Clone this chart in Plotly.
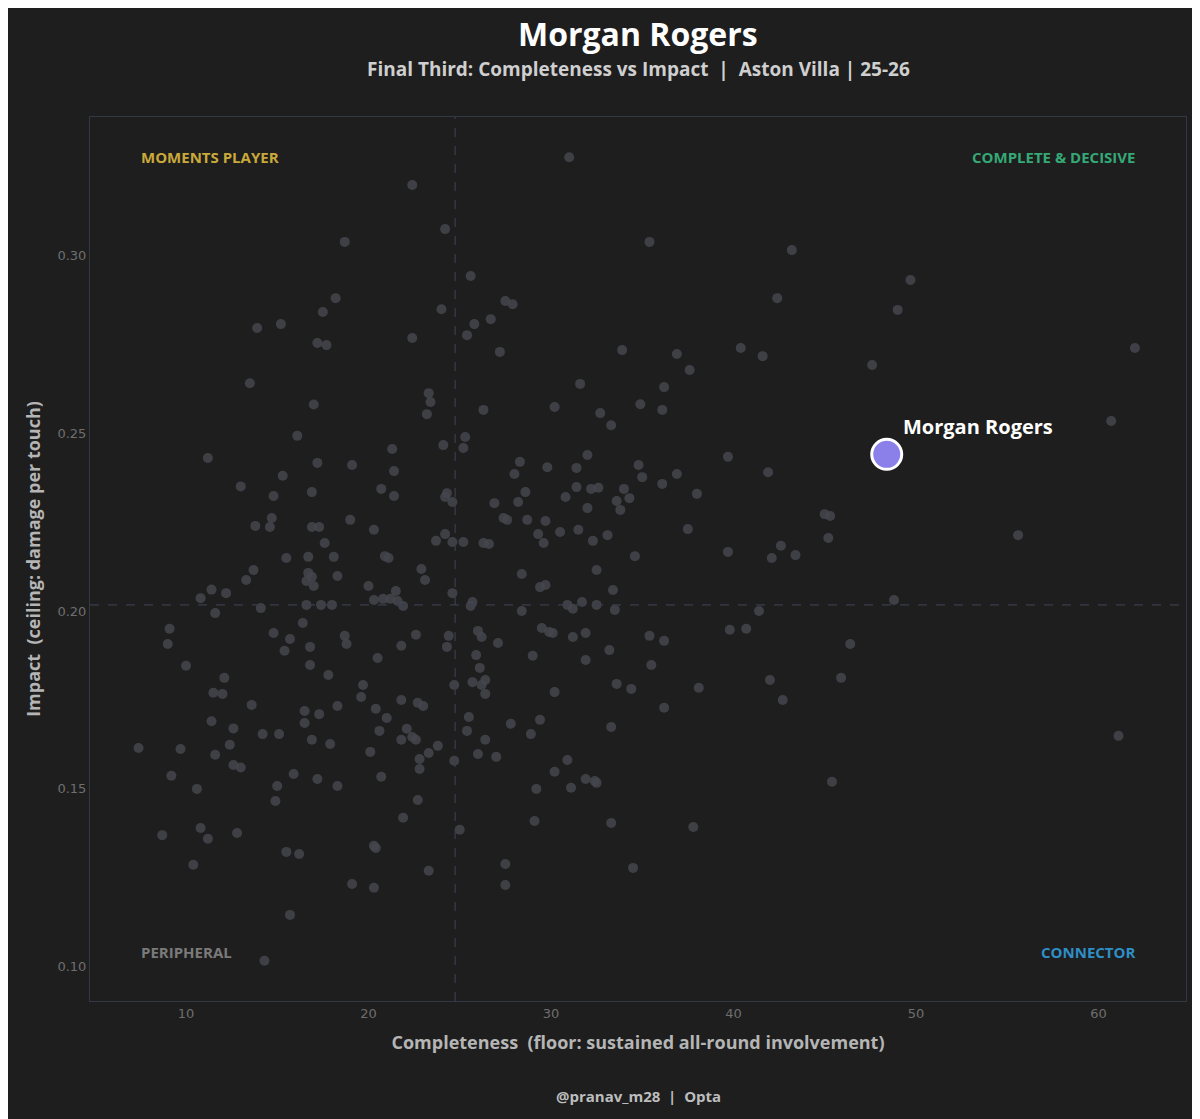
import plotly.graph_objects as go

# league players: completeness (x) vs impact (y)
completeness = [7.4, 8.7, 9.0, 9.1, 9.2, 9.7, 10.0, 10.4, 10.6, 10.8, 10.8, 11.2, 11.2, 11.4, 11.4, 11.5, 11.6, 11.6,
                12.0, 12.1, 12.2, 12.4, 12.6, 12.6, 12.8, 13.0, 13.0, 13.3, 13.6, 13.5, 13.7, 13.8, 13.9, 14.1, 14.2,
                14.3, 14.6, 14.7, 14.8, 14.8, 14.9, 15.0, 15.1, 15.2, 15.3, 15.4, 15.5, 15.5, 15.7, 15.7, 15.9, 16.1,
                16.2, 16.4, 16.5, 16.5, 16.6, 16.6, 16.7, 16.7, 16.8, 16.8, 16.9, 16.9, 17.0, 17.0, 16.9, 16.9, 17.2,
                17.2, 17.2, 17.3, 17.3, 17.4, 17.5, 17.6, 17.7, 17.8, 17.9, 18.0, 18.1, 18.2, 18.3, 18.3, 18.3, 18.7,
                18.7, 18.8, 19.0, 19.1, 19.1, 19.6, 19.7, 20.0, 20.1, 20.3, 20.3, 20.3, 20.3, 20.4, 20.4, 20.5, 20.6,
                20.7, 20.7, 20.8, 20.9, 21.0, 21.1, 21.2, 21.3, 21.4, 21.4, 21.5, 21.6, 21.8, 21.8, 21.8, 21.9, 21.9,
                22.1, 22.4, 22.4, 22.4, 22.6, 22.6, 22.7, 22.7, 22.8, 22.8, 22.9, 23.0, 23.1, 23.2, 23.3, 23.3, 23.3,
                23.4, 23.7, 23.8, 24.0, 24.1, 24.2, 24.2, 24.2, 24.3, 24.3, 24.4, 24.6, 24.6, 24.6, 24.7, 24.7, 25.0,
                25.2, 25.2, 25.3, 25.4, 25.4, 25.5, 25.6, 25.6, 25.7, 25.7, 25.8, 25.9, 26.0, 26.0, 26.1, 26.2, 26.2,
                26.3, 26.3, 26.4, 26.4, 26.4, 26.6, 26.7, 26.9, 27.0, 27.1, 27.2, 27.4, 27.5, 27.5, 27.5, 27.6, 27.8,
                27.9, 28.0, 28.2, 28.3, 28.4, 28.4, 28.6, 28.7, 28.9, 29.0, 29.1, 29.2, 29.3, 29.4, 29.4, 29.5, 29.6,
                29.7, 29.7, 29.8, 29.9, 30.1, 30.2, 30.2, 30.2, 30.5, 30.8, 30.9, 30.9, 31.0, 31.1, 31.2, 31.2, 31.4,
                31.4, 31.5, 31.6, 31.7, 31.9, 31.9, 31.9, 32.0, 32.0, 32.2, 32.3, 32.4, 32.5, 32.5, 32.5, 32.6, 32.7,
                33.1, 33.2, 33.3, 33.3, 33.3, 33.4, 33.5, 33.6, 33.6, 33.8, 33.9, 34.0, 34.3, 34.4, 34.5, 34.6, 34.8,
                34.9, 35.0, 35.4, 35.4, 35.5, 36.1, 36.1, 36.2, 36.2, 36.2, 36.9, 36.9, 37.5, 37.6, 37.8, 38.0, 38.1,
                39.7, 39.7, 39.8, 40.4, 40.7, 41.4, 41.6, 41.9, 42.0, 42.1, 42.4, 42.6, 42.7, 43.2, 43.4, 45.0, 45.2,
                45.3, 45.4, 45.9, 46.4, 47.6, 48.8, 49.0, 49.7, 55.6, 60.7, 61.1, 62.0]
impact = [0.1615, 0.137, 0.1907, 0.195, 0.1537, 0.1612, 0.1846, 0.1287, 0.150, 0.2036, 0.139, 0.243, 0.136, 0.206,
          0.169, 0.177, 0.1596, 0.1994, 0.1767, 0.1812, 0.205, 0.1624, 0.167, 0.1567, 0.1376, 0.235, 0.156, 0.2087,
          0.1736, 0.264, 0.2115, 0.2239, 0.2795, 0.2008, 0.1654, 0.1017, 0.2236, 0.2261, 0.2323, 0.1938, 0.1466,
          0.1508, 0.1654, 0.2806, 0.238, 0.1888, 0.2149, 0.1323, 0.1146, 0.1921, 0.1542, 0.2492, 0.1317, 0.1966,
          0.1719, 0.1685, 0.2084, 0.2017, 0.2152, 0.2107, 0.1848, 0.1899, 0.2334, 0.2096, 0.207, 0.258, 0.2236,
          0.1638, 0.2753, 0.2416, 0.1528, 0.2236, 0.171, 0.2017, 0.284, 0.2191, 0.2747, 0.182, 0.1626, 0.2017,
          0.2152, 0.2879, 0.1733, 0.2098, 0.1508, 0.3037, 0.193, 0.1907, 0.2256, 0.241, 0.1233, 0.1758, 0.1792,
          0.207, 0.1604, 0.2228, 0.134, 0.1222, 0.2031, 0.1334, 0.1725, 0.1868, 0.1663, 0.2343, 0.1534, 0.2034,
          0.2154, 0.1699, 0.2149, 0.2034, 0.2455, 0.2393, 0.2323, 0.2056, 0.2028, 0.1902, 0.175, 0.1638, 0.1419,
          0.2014, 0.1669, 0.2767, 0.3197, 0.1646, 0.1638, 0.1933, 0.1469, 0.1742, 0.1556, 0.1584, 0.2118, 0.1733,
          0.2087, 0.2553, 0.2612, 0.1601, 0.127, 0.2587, 0.2197, 0.1621, 0.2848, 0.2466, 0.2216, 0.3073, 0.232,
          0.1899, 0.2331, 0.193, 0.2306, 0.2194, 0.205, 0.1792, 0.1579, 0.1385, 0.2194, 0.2458, 0.2489, 0.1663,
          0.2775, 0.1702, 0.2941, 0.2014, 0.18, 0.2025, 0.2806, 0.1876, 0.1598, 0.1944, 0.184, 0.1792, 0.1927,
          0.2191, 0.2565, 0.1767, 0.1638, 0.1806, 0.2188, 0.282, 0.2303, 0.159, 0.191, 0.2728, 0.2261, 0.2871,
          0.1289, 0.123, 0.2256, 0.1683, 0.2862, 0.2385, 0.2306, 0.2419, 0.2104, 0.2, 0.2334, 0.2256, 0.1654,
          0.1874, 0.141, 0.15, 0.2216, 0.1694, 0.2067, 0.1952, 0.2191, 0.2253, 0.2073, 0.2404, 0.1941, 0.1938,
          0.2573, 0.1548, 0.1772, 0.2222, 0.232, 0.2017, 0.1581, 0.3275, 0.1503, 0.1927, 0.2006, 0.2402, 0.2348,
          0.2228, 0.2638, 0.2025, 0.1862, 0.1938, 0.1528, 0.2438, 0.2289, 0.2343, 0.2197, 0.1522, 0.1517, 0.2017,
          0.2115, 0.2346, 0.2556, 0.2213, 0.189, 0.2522, 0.1674, 0.1404, 0.2059, 0.2003, 0.2309, 0.1795, 0.2284,
          0.2733, 0.2343, 0.2317, 0.1781, 0.1278, 0.2154, 0.241, 0.2581, 0.2376, 0.3037, 0.193, 0.1848, 0.2565,
          0.2357, 0.1916, 0.1728, 0.2629, 0.2722, 0.2385, 0.223, 0.2677, 0.1393, 0.2329, 0.1784, 0.2166, 0.2433,
          0.1947, 0.2739, 0.195, 0.2, 0.2716, 0.239, 0.1806, 0.2149, 0.2879, 0.2183, 0.175, 0.3014, 0.2157, 0.2272,
          0.2205, 0.2267, 0.152, 0.1812, 0.1907, 0.2691, 0.2031, 0.2846, 0.293, 0.2213, 0.2534, 0.1649, 0.2739]

player_name = "Morgan Rogers"
player_x = [48.4]
player_y = [0.244]
median_x = 24.75
median_y = 0.2017

bg = "#1e1e1e"
font = "Open Sans"
fig = go.Figure()
fig.add_trace(go.Scatter(x=completeness, y=impact, mode="markers",
                         marker=dict(size=10, color="#45464e", opacity=0.85, line=dict(width=0)),
                         hoverinfo="skip", showlegend=False))
fig.add_trace(go.Scatter(x=player_x, y=player_y, mode="markers",
                         marker=dict(size=30, color="#8b80ea", line=dict(color="white", width=3)),
                         showlegend=False))

fig.add_vline(x=median_x, line=dict(color="#3a3e4c", width=1.2, dash="dash"))
fig.add_hline(y=median_y, line=dict(color="#3a3e4c", width=1.2, dash="dash"))

fig.add_annotation(x=player_x[0], y=player_y[0], text="<b>" + player_name + "</b>", showarrow=False,
                   xanchor="left", yanchor="bottom", xshift=14, yshift=12,
                   font=dict(color="white", size=20, family=font))

quad = [("MOMENTS PLAYER", 0.045, 0.955, "left", "#c9a93a"),
        ("COMPLETE & DECISIVE", 0.955, 0.955, "right", "#35a876"),
        ("PERIPHERAL", 0.045, 0.055, "left", "#7a7a7a"),
        ("CONNECTOR", 0.955, 0.055, "right", "#2e8fc6")]
for label, qx, qy, anchor, col in quad:
    fig.add_annotation(x=qx, y=qy, xref="paper", yref="paper", text="<b>" + label + "</b>", showarrow=False,
                       xanchor=anchor, yanchor="middle", font=dict(color=col, size=15, family=font))

fig.add_annotation(x=0.5, y=1.0 + 83 / 884, xref="paper", yref="paper", text="<b>Morgan Rogers</b>",
                   showarrow=False, yanchor="middle", font=dict(color="white", size=32, family=font))
fig.add_annotation(x=0.5, y=1.0 + 48 / 884, xref="paper", yref="paper",
                   text="<b>Final Third: Completeness vs Impact  |  Aston Villa | 25-26</b>",
                   showarrow=False, yanchor="middle", font=dict(color="#cfcfcf", size=19, family=font))
fig.add_annotation(x=0.5, y=-95 / 884, xref="paper", yref="paper", text="<b>@pranav_m28  |  Opta</b>",
                   showarrow=False, yanchor="middle", font=dict(color="#bdbdbd", size=15, family=font))

fig.update_xaxes(range=[4.74, 64.8], tickvals=[10, 20, 30, 40, 50, 60], showgrid=False, zeroline=False,
                 showline=True, linecolor="#333845", mirror=True, ticks="",
                 tickfont=dict(color="#6e6e6e", size=13, family="DejaVu Sans"),
                 title=dict(text="<b>Completeness  (floor: sustained all-round involvement)</b>",
                            font=dict(color="#b5b5b5", size=18, family=font), standoff=16))
fig.update_yaxes(range=[0.0904, 0.3388], tickvals=[0.10, 0.15, 0.20, 0.25, 0.30], tickformat=".2f",
                 showgrid=False, zeroline=False, showline=True, linecolor="#333845", mirror=True, ticks="",
                 tickfont=dict(color="#6e6e6e", size=13, family="DejaVu Sans"),
                 title=dict(text="<b>Impact  (ceiling: damage per touch)</b>",
                            font=dict(color="#b5b5b5", size=18, family=font), standoff=12))

fig.update_layout(width=1200, height=1119, paper_bgcolor=bg, plot_bgcolor=bg,
                  margin=dict(l=82, r=22, t=109, b=126), showlegend=False)

fig.write_html("out.html")
